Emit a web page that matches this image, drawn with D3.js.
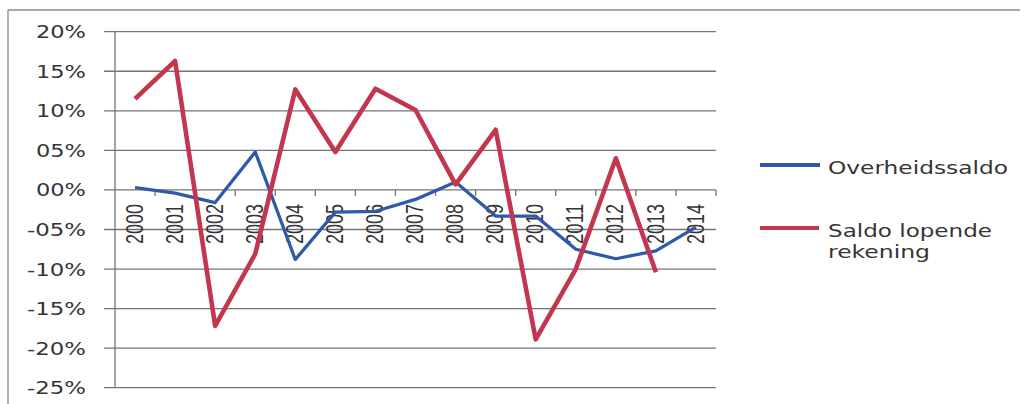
<!DOCTYPE html>
<html><head><meta charset="utf-8">
<script src="https://cdn.jsdelivr.net/npm/d3@7"></script>
<style>body{margin:0;background:#fff}svg{display:block}</style>
</head><body>
<script>
const years = ["2000","2001","2002","2003","2004","2005","2006","2007","2008","2009","2010","2011","2012","2013","2014"];
const overheidssaldo = [0.3,-0.4,-1.6,4.8,-8.8,-2.8,-2.7,-1.2,1.0,-3.3,-3.3,-7.5,-8.7,-7.7,-4.7];
const saldoLopende = [11.5,16.3,-17.2,-8.1,12.7,4.8,12.8,10.1,0.7,7.6,-18.9,-10.0,4.0,-10.4,null];
const yTicks = [20,15,10,5,0,-5,-10,-15,-20,-25];
const yTickLabels = ["20%","15%","10%","05%","00%","-05%","-10%","-15%","-20%","-25%"];
const seriesNames = ["Overheidssaldo","Saldo lopende rekening"];

const W=1025,H=404;
const svg=d3.select("body").append("svg").attr("width",W).attr("height",H);
const x=d3.scaleBand().domain(years).range([115,716]);
const y=d3.scaleLinear().domain([-25,20]).range([387.7,31.7]);
const blue="#2f5aa8", red="#c23650", grid="#747474", txt="#353535";

// chart border (top & left)
svg.append("line").attr("x1",8).attr("x2",1020).attr("y1",10).attr("y2",10).attr("stroke","#8a8a8a").attr("stroke-width",1.3);
svg.append("line").attr("x1",8).attr("x2",8).attr("y1",10).attr("y2",404).attr("stroke","#8a8a8a").attr("stroke-width",1.3);

// gridlines
svg.append("g").selectAll("line").data(yTicks).join("line")
  .attr("x1",104).attr("x2",716).attr("y1",d=>y(d)).attr("y2",d=>y(d))
  .attr("stroke",grid).attr("stroke-width",1.3);
// y axis line
svg.append("line").attr("x1",115).attr("x2",115).attr("y1",y(20)).attr("y2",y(-25)).attr("stroke",grid).attr("stroke-width",1.3);
// category ticks on zero line
const bounds = years.map(d=>x(d)+x.bandwidth());
svg.append("g").selectAll("line").data(bounds).join("line")
  .attr("x1",d=>d).attr("x2",d=>d).attr("y1",y(0)).attr("y2",y(0)+6)
  .attr("stroke",grid).attr("stroke-width",1.3);

// y labels
svg.append("g").selectAll("text").data(yTicks).join("text")
  .attr("x",(d,i)=>86-(yTickLabels[i].length===3?50:59))
  .attr("y",d=>y(d)+6.5)
  .attr("textLength",(d,i)=>yTickLabels[i].length===3?50:59)
  .attr("lengthAdjust","spacingAndGlyphs")
  .attr("font-family","DejaVu Sans").attr("font-size",17.5).attr("fill",txt)
  .text((d,i)=>yTickLabels[i]);

// x labels
svg.append("g").selectAll("text").data(years).join("text")
  .attr("transform",d=>`translate(${x(d)+x.bandwidth()/2-1},204) rotate(-90)`)
  .attr("text-anchor","end").attr("dy","0.36em")
  .attr("textLength",40).attr("lengthAdjust","spacingAndGlyphs")
  .attr("font-family","Liberation Sans").attr("font-size",24).attr("fill",txt)
  .text(d=>d);

const line=d3.line().defined(d=>d!=null).x((d,i)=>x(years[i])+x.bandwidth()/2).y(d=>y(d));
svg.append("path").datum(overheidssaldo).attr("d",line).attr("fill","none").attr("stroke",blue).attr("stroke-width",3.3).attr("stroke-linejoin","round");
svg.append("path").datum(saldoLopende).attr("d",line).attr("fill","none").attr("stroke",red).attr("stroke-width",4.6).attr("stroke-linejoin","round");

// legend
const lg=svg.append("g");
lg.append("line").attr("x1",760).attr("x2",820).attr("y1",165).attr("y2",165).attr("stroke",blue).attr("stroke-width",4);
lg.append("line").attr("x1",760).attr("x2",819).attr("y1",228).attr("y2",228).attr("stroke",red).attr("stroke-width",4);
lg.append("text").attr("x",828).attr("y",173.5).attr("textLength",180).attr("lengthAdjust","spacingAndGlyphs")
  .attr("font-family","DejaVu Sans").attr("font-size",18.5).attr("fill",txt).text(seriesNames[0]);
lg.append("text").attr("x",828).attr("y",237).attr("textLength",164).attr("lengthAdjust","spacingAndGlyphs")
  .attr("font-family","DejaVu Sans").attr("font-size",18.5).attr("fill",txt).text("Saldo lopende");
lg.append("text").attr("x",828).attr("y",258).attr("textLength",102).attr("lengthAdjust","spacingAndGlyphs")
  .attr("font-family","DejaVu Sans").attr("font-size",18.5).attr("fill",txt).text("rekening");
</script>
</body></html>
